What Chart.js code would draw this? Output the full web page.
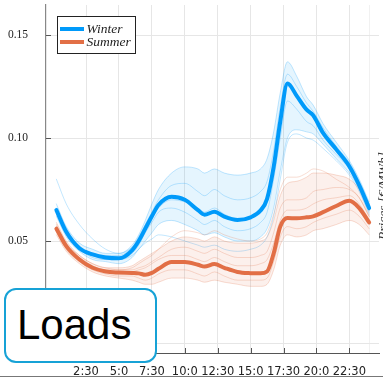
<!DOCTYPE html>
<html>
<head>
<meta charset="utf-8">
<script src="https://cdn.jsdelivr.net/npm/chart.js@4/dist/chart.umd.min.js"></script>
<style>
  html, body { margin: 0; padding: 0; background: #fff; overflow: hidden; }
  #wrap { position: relative; width: 383px; height: 379px; overflow: hidden; }
  #loads {
    position: absolute; left: 4px; top: 288px; width: 149px; height: 71px;
    border: 2.5px solid #17a2d6; border-radius: 12px; background: #fff;
    font-family: "Liberation Sans", Arial, sans-serif; font-size: 42px; color: #000;
    box-sizing: content-box;
  }
  #loads span { position: absolute; left: 11px; top: 11px; line-height: 48px; }
  #ylabel2 {
    position: absolute; left: 338px; top: 188px; width: 90px; text-align: center;
    font-family: "Liberation Serif", serif; font-style: italic; font-size: 13.5px; color: #333;
    transform: rotate(-90deg); transform-origin: 50% 50%; white-space: nowrap;
  }
  #bottomline { position: absolute; left: 0; top: 376px; width: 383px; height: 1px; background: #777; }
</style>
</head>
<body>
<div id="wrap">
  <canvas id="chart" width="383" height="379"></canvas>
  <div id="ylabel2">Prices [€/MWh]</div>
  <div id="loads"><span>Loads</span></div>
  <div id="bottomline"></div>
</div>
<script>
// hours of the day at which the curves were read
const HOURS = [0.25, 1, 2, 3, 4, 5, 6, 6.5, 7, 7.5, 8, 9, 10, 11, 11.5, 12.25,
               13, 14, 15, 15.75, 16.25, 16.75, 17.25, 17.8, 18.5, 19.25, 19.75,
               20.5, 21.5, 22.5, 23.25, 24];

// mean daily load profiles
const winterMean = [0.065, 0.0545, 0.0465, 0.0435, 0.042, 0.0416, 0.0455, 0.050, 0.056, 0.062, 0.0675,
                    0.0715, 0.0700, 0.065, 0.0628, 0.0642, 0.0618, 0.0602, 0.0615, 0.0648, 0.0705,
                    0.086, 0.108, 0.1265, 0.1205, 0.1138, 0.111, 0.1025, 0.0945, 0.0862, 0.077, 0.066];
const summerMean = [0.056, 0.0475, 0.041, 0.037, 0.0352, 0.0347, 0.0345, 0.0343, 0.0336, 0.0345, 0.0365,
                    0.0398, 0.0398, 0.0385, 0.0376, 0.0388, 0.0370, 0.0350, 0.0344, 0.0343, 0.0352,
                    0.044, 0.057, 0.0612, 0.061, 0.0615, 0.062, 0.064, 0.067, 0.0695, 0.066, 0.059];

// some of the individual winter days
const winterDays = [
  [0.068, 0.057, 0.049, 0.046, 0.044, 0.044, 0.048, 0.053, 0.060, 0.068, 0.075, 0.083, 0.086, 0.085, 0.083, 0.085,
   0.083, 0.082, 0.083, 0.085, 0.090, 0.103, 0.122, 0.137, 0.130, 0.120, 0.116, 0.107, 0.098, 0.089, 0.080, 0.069],
  [0.062, 0.052, 0.045, 0.041, 0.040, 0.039, 0.042, 0.046, 0.050, 0.054, 0.058, 0.060, 0.058, 0.055, 0.053, 0.054,
   0.052, 0.050, 0.050, 0.052, 0.056, 0.066, 0.084, 0.100, 0.104, 0.103, 0.102, 0.097, 0.090, 0.083, 0.075, 0.064],
  [0.066, 0.055, 0.047, 0.044, 0.043, 0.043, 0.047, 0.052, 0.058, 0.064, 0.070, 0.077, 0.078, 0.074, 0.072, 0.075,
   0.072, 0.070, 0.071, 0.074, 0.079, 0.094, 0.115, 0.131, 0.125, 0.117, 0.113, 0.105, 0.096, 0.088, 0.079, 0.068],
  [0.064, 0.053, 0.046, 0.043, 0.041, 0.041, 0.044, 0.048, 0.054, 0.059, 0.064, 0.066, 0.064, 0.060, 0.058, 0.060,
   0.057, 0.055, 0.056, 0.059, 0.064, 0.080, 0.100, 0.118, 0.114, 0.108, 0.106, 0.099, 0.092, 0.085, 0.076, 0.065],
  [0.080, 0.068, 0.058, 0.051, 0.046, 0.044, 0.047, 0.051, 0.056, 0.061, 0.066, 0.070, 0.069, 0.066, 0.064, 0.066,
   0.063, 0.061, 0.062, 0.066, 0.072, 0.088, 0.110, 0.125, 0.121, 0.114, 0.110, 0.103, 0.095, 0.087, 0.078, 0.067],
  [0.063, 0.053, 0.046, 0.042, 0.041, 0.041, 0.043, 0.046, 0.049, 0.051, 0.053, 0.052, 0.050, 0.048, 0.047, 0.048,
   0.046, 0.045, 0.046, 0.048, 0.052, 0.062, 0.080, 0.098, 0.102, 0.100, 0.099, 0.095, 0.089, 0.082, 0.074, 0.063]
];

// some of the individual summer days
const summerDays = [
  [0.059, 0.050, 0.043, 0.039, 0.037, 0.037, 0.038, 0.040, 0.042, 0.044, 0.046, 0.050, 0.052, 0.051, 0.050, 0.052,
   0.050, 0.049, 0.049, 0.050, 0.052, 0.060, 0.072, 0.078, 0.079, 0.081, 0.083, 0.083, 0.082, 0.080, 0.075, 0.065],
  [0.053, 0.045, 0.039, 0.035, 0.033, 0.032, 0.031, 0.030, 0.029, 0.029, 0.030, 0.032, 0.032, 0.031, 0.030, 0.031,
   0.030, 0.029, 0.028, 0.028, 0.029, 0.036, 0.048, 0.053, 0.052, 0.053, 0.055, 0.056, 0.058, 0.060, 0.058, 0.053],
  [0.057, 0.048, 0.042, 0.038, 0.036, 0.036, 0.036, 0.037, 0.038, 0.040, 0.042, 0.046, 0.047, 0.045, 0.044, 0.046,
   0.044, 0.042, 0.042, 0.043, 0.045, 0.054, 0.066, 0.070, 0.070, 0.071, 0.074, 0.075, 0.076, 0.075, 0.071, 0.062],
  [0.055, 0.046, 0.040, 0.036, 0.034, 0.033, 0.033, 0.032, 0.031, 0.032, 0.034, 0.036, 0.036, 0.034, 0.033, 0.035,
   0.033, 0.031, 0.031, 0.031, 0.032, 0.040, 0.052, 0.057, 0.056, 0.057, 0.059, 0.061, 0.063, 0.065, 0.062, 0.056],
  [0.056, 0.047, 0.041, 0.037, 0.035, 0.034, 0.035, 0.036, 0.037, 0.039, 0.041, 0.043, 0.043, 0.041, 0.040, 0.042,
   0.040, 0.038, 0.038, 0.039, 0.041, 0.049, 0.060, 0.065, 0.065, 0.066, 0.068, 0.070, 0.071, 0.072, 0.068, 0.060],
  [0.058, 0.049, 0.043, 0.039, 0.037, 0.036, 0.037, 0.039, 0.041, 0.043, 0.046, 0.052, 0.055, 0.054, 0.053, 0.055,
   0.053, 0.051, 0.050, 0.051, 0.054, 0.063, 0.075, 0.081, 0.081, 0.083, 0.085, 0.084, 0.080, 0.076, 0.071, 0.062]
];

const X_TICKS = [2.5, 5, 7.5, 10, 12.5, 15, 17.5, 20, 22.5, 24];
const Y_TICKS = [0, 0.05, 0.10, 0.15];

const BLUE = '#009AFA';
const ORANGE = '#E26F46';

const pts = arr => HOURS.map((h, i) => ({ x: h, y: arr[i] }));

function hourLabel(v) {
    if (v === 24) return '';
    const h = Math.floor(v);
    const m = Math.round((v - h) * 60);
    return h + ':' + m;
}

const datasets = [];
// mean lines first so they sit on top
datasets.push({ label: 'Winter', data: pts(winterMean), borderColor: BLUE, borderWidth: 4, order: 0, legend: true });
datasets.push({ label: 'Summer', data: pts(summerMean), borderColor: ORANGE, borderWidth: 4, order: 0, legend: true });

const wBase = datasets.length;
winterDays.forEach((d, i) => datasets.push({
    label: 'w' + i, data: pts(d), borderColor: 'rgba(0,154,250,0.3)', borderWidth: 0.8, order: 2,
    fill: i === 0 ? wBase + 1 : false, backgroundColor: 'rgba(0,154,250,0.10)'
}));
const sBase = datasets.length;
summerDays.forEach((d, i) => datasets.push({
    label: 's' + i, data: pts(d), borderColor: 'rgba(226,111,70,0.3)', borderWidth: 0.8, order: 1,
    fill: i === 0 ? sBase + 1 : false, backgroundColor: 'rgba(226,111,70,0.10)'
}));

// small ticks pointing into the plot
const innerTicks = {
    id: 'innerTicks',
    beforeDatasetsDraw(chart) {
        const { ctx, chartArea, scales } = chart;
        ctx.save();
        ctx.strokeStyle = '#555';
        ctx.lineWidth = 1;
        Y_TICKS.forEach(v => {
            const y = Math.round(scales.y.getPixelForValue(v)) + 0.5;
            ctx.beginPath(); ctx.moveTo(chartArea.left, y); ctx.lineTo(chartArea.left + 5, y); ctx.stroke();
        });
        X_TICKS.slice(0, -1).forEach(v => {
            const x = Math.round(scales.x.getPixelForValue(v)) + 0.5;
            ctx.beginPath(); ctx.moveTo(x, chartArea.bottom); ctx.lineTo(x, chartArea.bottom - 5); ctx.stroke();
        });
        ctx.restore();
    }
};

// legend box in the top left corner of the plot
const innerLegend = {
    id: 'innerLegend',
    afterDraw(chart) {
        const { ctx } = chart;
        const items = chart.data.datasets.filter(d => d.legend);
        ctx.save();
        ctx.fillStyle = '#fff';
        ctx.fillRect(57.5, 16.5, 78, 37);
        ctx.strokeStyle = '#222';
        ctx.lineWidth = 1;
        ctx.strokeRect(57.5, 16.5, 78, 37);
        ctx.font = 'italic 13.5px "Liberation Serif", serif';
        ctx.textBaseline = 'middle';
        items.forEach((d, i) => {
            const y = 29 + i * 13;
            ctx.strokeStyle = d.borderColor;
            ctx.lineWidth = 4;
            ctx.beginPath(); ctx.moveTo(60, y); ctx.lineTo(84, y); ctx.stroke();
            ctx.fillStyle = '#222';
            ctx.fillText(d.label, 86.5, y + 0.5);
        });
        ctx.restore();
    }
};

new Chart(document.getElementById('chart'), {
    type: 'line',
    data: { datasets },
    options: {
        responsive: false,
        animation: false,
        layout: { padding: { top: 5, right: 4, left: 0, bottom: 0 } },
        elements: {
            point: { radius: 0 },
            line: { cubicInterpolationMode: 'monotone', fill: false, borderCapStyle: 'round', borderJoinStyle: 'round' }
        },
        plugins: { legend: { display: false }, tooltip: { enabled: false } },
        scales: {
            x: {
                type: 'linear', min: -0.54, max: 24.75,
                afterBuildTicks: s => { s.ticks = X_TICKS.map(v => ({ value: v })); },
                afterFit: s => { s.height = 26; s.paddingLeft = 0; s.paddingRight = 0; },
                grid: {
                    drawTicks: false,
                    color: c => (c.tick && c.tick.value === 24) ? '#f1f1f1' : '#e6e6e6',
                    lineWidth: 1
                },
                border: { color: '#555', width: 1 },
                ticks: {
                    padding: 12, autoSkip: false, maxRotation: 0,
                    color: '#222',
                    font: { family: '"DejaVu Sans", sans-serif', size: 11.5 },
                    callback: v => hourLabel(v)
                }
            },
            y: {
                min: -0.00437, max: 0.1646,
                afterBuildTicks: s => { s.ticks = Y_TICKS.map(v => ({ value: v })); },
                afterFit: s => { s.width = 46; s.paddingTop = 0; s.paddingBottom = 0; },
                grid: { drawTicks: false, color: '#e6e6e6', lineWidth: 1 },
                border: { color: '#888', width: 1.2 },
                ticks: {
                    padding: 18, color: '#222',
                    font: { family: '"Liberation Serif", serif', size: 11.5 },
                    callback: v => v.toFixed(2)
                }
            }
        }
    },
    plugins: [innerTicks, innerLegend]
});
</script>
</body>
</html>
